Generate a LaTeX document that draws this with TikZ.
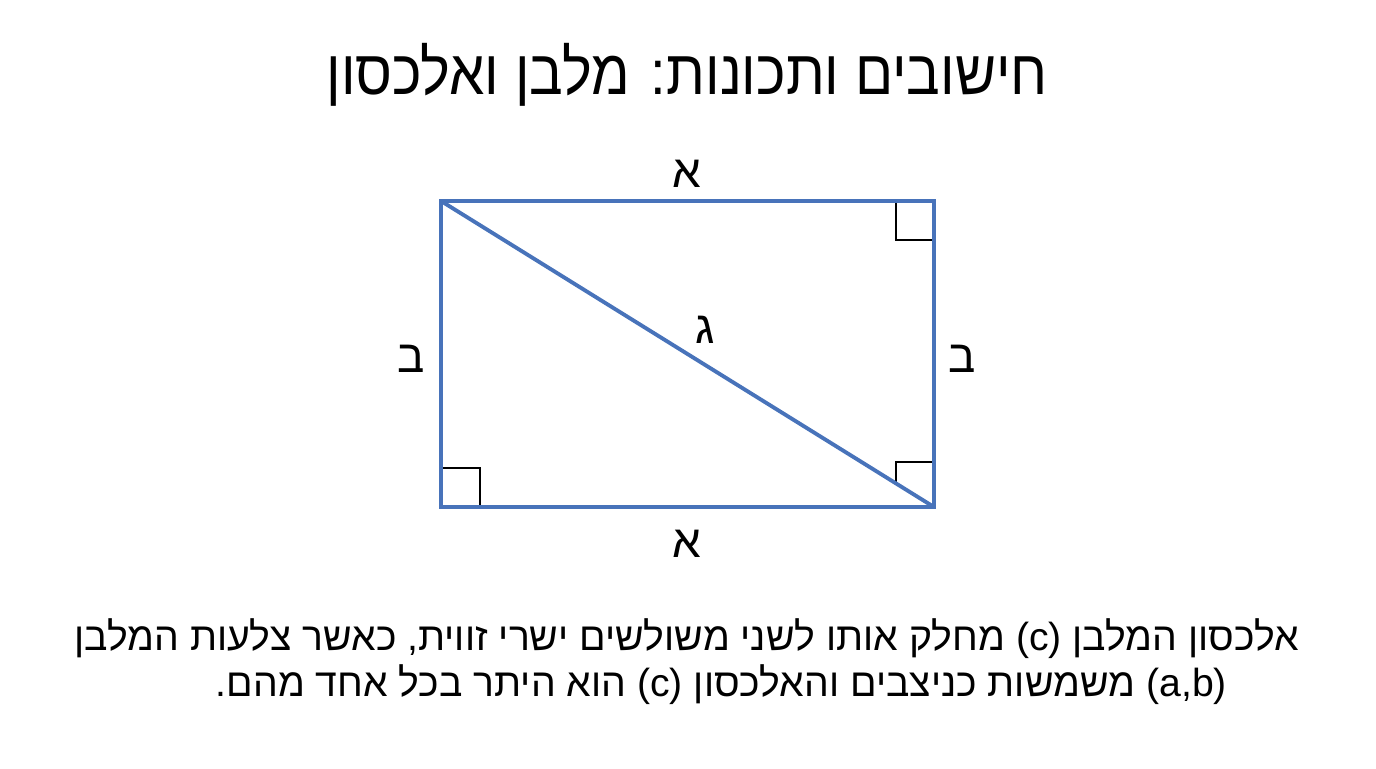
\documentclass[tikz,border=0pt]{standalone}
\usepackage{fontspec}
\setmainfont{Liberation Sans}
\newfontfamily\hebfont[Script=Hebrew]{Liberation Sans}
\TeXXeTstate=1
\usetikzlibrary{calc}
\definecolor{rectblue}{RGB}{72,115,186}

\begin{document}
\begin{tikzpicture}[x=0.02cm,y=-0.02cm,
        side/.style={draw=rectblue,line width=2.2pt},
        rightang/.style={draw=black,line width=1.4pt},
        lbl/.style={font=\hebfont\fontsize{26}{30}\selectfont,anchor=base},
        body/.style={font=\hebfont\fontsize{22.3}{26}\selectfont,anchor=base east}]
        \useasboundingbox (0,0) rectangle (1376,768);

        \node [font=\hebfont\fontsize{32}{36}\selectfont,anchor=base,yscale=1.12] (title) at (687,94)
          {\beginR חישובים ותכונות: מלבן ואלכסון\endR};

        \coordinate (tl) at (441,201);
        \coordinate (tr) at (934,201);
        \coordinate (bl) at (441,507);
        \coordinate (br) at (934,507);

        \draw [rightang] ($(tr)+(-38,0)$) |- ($(tr)+(0,39)$);
        \draw [rightang] ($(bl)+(0,-39)$) -| ($(bl)+(39,0)$);
        \coordinate (cut) at ($(tl)!0.923!(br)$);
        \draw [rightang] (cut) |- ($(br)+(0,-45)$);

        \draw [side] (tl) -- (tr) -- (br) -- (bl) -- cycle;
        \draw [side] (tl) -- (br);

        \node [lbl] (atop) at (687,187) {\beginR א\endR};
        \node [lbl] (abot) at (687,557) {\beginR א\endR};
        \node [lbl] (bleft) at (411,372) {\beginR ב\endR};
        \node [lbl] (bright) at (962,372) {\beginR ב\endR};
        \node [lbl] (gdiag) at (705,343) {\beginR ג\endR};

        \node [body] (line1) at (1305,650)
          {\beginR אלכסון המלבן \beginL(c)\endL{} מחלק אותו לשני משולשים ישרי זווית, כאשר צלעות המלבן\endR};
        \node [body] (line2) at (1233,696)
          {\beginR \beginL(a,b)\endL{} משמשות כניצבים והאלכסון \beginL(c)\endL{} הוא היתר בכל אחד מהם.\endR};
      \end{tikzpicture}
\end{document}
